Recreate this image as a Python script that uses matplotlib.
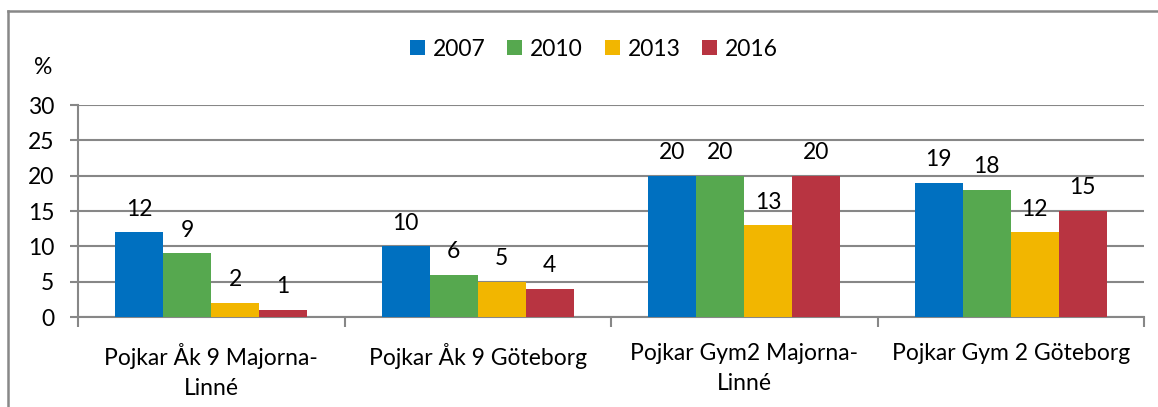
import matplotlib.pyplot as plt
from matplotlib.lines import Line2D
import numpy as np

# data
categories = ["Pojkar Åk 9 Majorna-\nLinné", "Pojkar Åk 9 Göteborg",
              "Pojkar Gym2 Majorna-\nLinné", "Pojkar Gym 2 Göteborg"]
years = ["2007", "2010", "2013", "2016"]
v2007 = [12, 10, 20, 19]
v2010 = [9, 6, 20, 18]
v2013 = [2, 5, 13, 12]
v2016 = [1, 4, 20, 15]
series = [v2007, v2010, v2013, v2016]
colors = ["#0070C0", "#56A84F", "#F2B600", "#B83441"]

plt.rcParams['font.family'] = ['Lato', 'DejaVu Sans']
fs = 16.5

fig = plt.figure(figsize=(11.58, 4.07), dpi=100)
ax = fig.add_axes([78 / 1158, 1 - 317 / 407, (1144 - 78) / 1158, (317 - 105) / 407])

x = np.arange(len(categories))
w = 0.18
for i, (vals, yr, c) in enumerate(zip(series, years, colors)):
    pos = x + (i - 1.5) * w
    bars = ax.bar(pos, vals, width=w, color=c, label=yr, zorder=3)
    for b, v in zip(bars, vals):
        ax.annotate(str(v), xy=(b.get_x() + b.get_width() / 2, v),
                    xytext=(0, 9), textcoords='offset points',
                    ha='center', va='bottom', fontsize=fs)

ax.set_xlim(-0.5, len(categories) - 0.5)
ax.set_ylim(0, 30)
ax.set_yticks(range(0, 31, 5))
ax.yaxis.grid(True, color='#878787', linewidth=1.5, zorder=0)
ax.set_axisbelow(True)

ax.set_xticks(x)
ax.set_xticklabels(categories, fontsize=fs, linespacing=1.5)
ax.set_xticks(np.arange(-0.5, len(categories)), minor=True)
ax.tick_params(axis='x', which='major', length=0, pad=19)
ax.tick_params(axis='x', which='minor', length=7, width=1.5, color='#878787', direction='out')
ax.tick_params(axis='y', length=6, width=1.5, color='#878787', pad=11, labelsize=fs)

for s in ['top', 'right']:
    ax.spines[s].set_visible(False)
for s in ['left', 'bottom']:
    ax.spines[s].set_color('#878787')
    ax.spines[s].set_linewidth(1.5)

fig.text(43 / 1158, 1 - 67 / 407, "%", ha='center', va='center', fontsize=fs)

fig.legend(loc='center', bbox_to_anchor=(594 / 1158, 1 - 49 / 407), ncol=4,
           frameon=False, fontsize=fs, handlelength=0.65, handleheight=0.65,
           handletextpad=0.35, columnspacing=0.95)

# outer frame (only top and left visible in the reference)
fig.add_artist(Line2D([8 / 1158, 8 / 1158], [0, 1 - 11 / 407], transform=fig.transFigure,
                      color='#888888', linewidth=1.8))
fig.add_artist(Line2D([8 / 1158, 1], [1 - 11 / 407, 1 - 11 / 407], transform=fig.transFigure,
                      color='#888888', linewidth=1.8))

fig.savefig("out.png", dpi=100)
